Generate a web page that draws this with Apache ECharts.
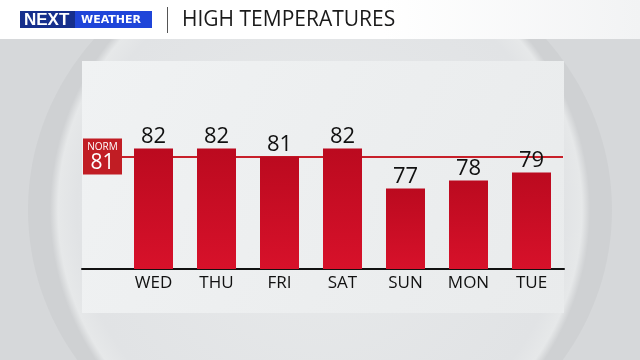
<!DOCTYPE html>
<html><head><meta charset="utf-8">
<script src="https://cdn.jsdelivr.net/npm/echarts@6/dist/echarts.min.js"></script>
<style>html,body{margin:0;padding:0;background:#d9dbdd;}#c{width:640px;height:360px;}</style>
</head><body><div id="c"></div>
<script>
var days = ['WED','THU','FRI','SAT','SUN','MON','TUE'];
var highs = [82, 82, 81, 82, 77, 78, 79];
var normal = 81;
var title = 'HIGH TEMPERATURES';

var chart = echarts.init(document.getElementById('c'), null, {renderer:'canvas'});
var FONT = '"Open Sans", sans-serif';
chart.setOption({
  animation:false,
  backgroundColor:'#d6d8da',
  graphic:[
    {type:'ellipse', silent:true, z:-10, shape:{cx:320, cy:210, rx:292, ry:270},
      style:{fill:{type:'radial', x:0.5, y:0.5, r:0.5, colorStops:[{offset:0,color:'#e8eaeb'},{offset:0.9,color:'#e1e3e5'},{offset:0.97,color:'#e6e8e9'},{offset:1,color:'#cfd1d3'}]}}},
    {type:'rect', silent:true, z:-9, shape:{x:82, y:61, width:482, height:252},
      style:{fill:{type:'linear', x:0, y:0, x2:1, y2:1, colorStops:[{offset:0,color:'#f0f2f3'},{offset:1,color:'#e9ebec'}]}}},
    {type:'rect', silent:true, z:-8, shape:{x:0, y:0, width:640, height:39},
      style:{fill:{type:'linear', x:0, y:0, x2:1, y2:0, colorStops:[{offset:0,color:'#ffffff'},{offset:0.6,color:'#ffffff'},{offset:1,color:'#f2f3f4'}]}}},
    {type:'rect', silent:true, z:5, shape:{x:20, y:11, width:132, height:17}, style:{fill:'#1f45d9'}},
    {type:'rect', silent:true, z:5, shape:{x:20, y:11, width:55, height:17}, style:{fill:'#162f8c'}},
    {type:'text', silent:true, z:6, style:{x:24, y:20, text:'NEXT', fill:'#ffffff', font:'bold 17px "Liberation Sans", sans-serif', verticalAlign:'middle'}},
    {type:'text', silent:true, z:6, style:{x:81, y:20, text:'WEATHER', fill:'#ffffff', font:'bold 11px "DejaVu Sans", sans-serif', verticalAlign:'middle'}},
    {type:'rect', silent:true, z:5, shape:{x:167, y:7, width:1, height:26}, style:{fill:'#555'}},
    {type:'text', silent:true, z:6, style:{x:182, y:20, text:title, fill:'#1a1a1a', font:'500 21px "Open Sans", sans-serif', verticalAlign:'middle'}}
  ],
  grid:[
    {left:122, right:77, top:60, bottom:91},
    {left:82, right:76, top:60, bottom:91}
  ],
  xAxis:[
    {type:'category', gridIndex:0, data:days, axisLine:{show:false}, axisTick:{show:false},
      axisLabel:{color:'#111', fontSize:17, fontWeight:500, fontFamily:FONT, margin:6}},
    {type:'value', gridIndex:1, min:0, max:1, axisLine:{show:true, onZero:false, lineStyle:{color:'#111', width:2}},
      axisTick:{show:false}, axisLabel:{show:false}, splitLine:{show:false}}
  ],
  yAxis:[
    {type:'value', gridIndex:0, min:67, max:93, show:false, splitLine:{show:false}},
    {type:'value', gridIndex:1, min:67, max:93, show:false, splitLine:{show:false}}
  ],
  series:[
    {type:'bar', xAxisIndex:0, yAxisIndex:0, data:highs, barWidth:39, z:3,
      itemStyle:{color:{type:'linear', x:0, y:0, x2:0, y2:1, colorStops:[{offset:0,color:'#bb0a1f'},{offset:1,color:'#d7112a'}]}},
      label:{show:true, position:'top', distance:1, color:'#111', fontSize:22, fontWeight:500, fontFamily:FONT},
      markLine:{silent:true, symbol:'none', z:2,
        lineStyle:{color:'#c8202a', width:2, type:'solid'},
        label:{show:true, position:'start', distance:0, formatter:function(p){return '{n|NORM}\n{v|'+p.value+'}';},
          backgroundColor:'#c11d24', padding:[3,4,1,4],
          rich:{n:{color:'#fff', fontSize:10, fontFamily:FONT, align:'center', lineHeight:12, width:31},
                v:{color:'#fff', fontSize:21, fontFamily:FONT, align:'center', lineHeight:20, width:31}}},
        data:[{yAxis:normal}]}}
  ]
});
</script></body></html>
